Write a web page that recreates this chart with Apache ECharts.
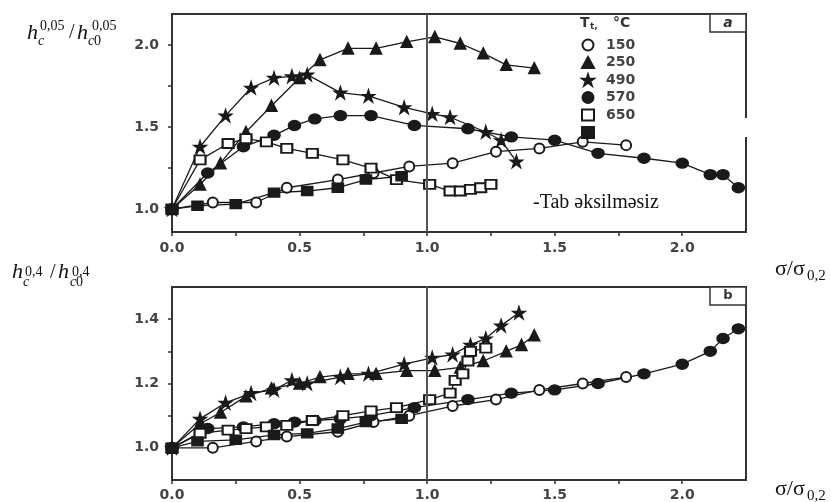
<!DOCTYPE html>
<html>
<head>
<meta charset="utf-8">
<script src="https://cdn.jsdelivr.net/npm/echarts@6/dist/echarts.min.js"></script>
<style>
  html, body { margin: 0; padding: 0; background: #fff; }
  #main { width: 831px; height: 502px; }
</style>
</head>
<body>
<div id="main"></div>
<script>
  // panel a : h_c^0,05 / h_c0^0,05 vs sigma/sigma0,2
  const a150x = [0, 0.16, 0.33, 0.45, 0.65, 0.79, 0.93, 1.10, 1.27, 1.44, 1.61, 1.78];
  const a150y = [1.00, 1.04, 1.04, 1.13, 1.18, 1.22, 1.26, 1.28, 1.35, 1.37, 1.41, 1.39];
  const a250x = [0, 0.11, 0.19, 0.29, 0.39, 0.50, 0.58, 0.69, 0.80, 0.92, 1.03, 1.13, 1.22, 1.31, 1.42];
  const a250y = [1.00, 1.15, 1.28, 1.47, 1.63, 1.80, 1.91, 1.98, 1.98, 2.02, 2.05, 2.01, 1.95, 1.88, 1.86];
  const a490x = [0, 0.11, 0.21, 0.31, 0.40, 0.47, 0.53, 0.66, 0.77, 0.91, 1.02, 1.09, 1.23, 1.29, 1.35];
  const a490y = [1.00, 1.38, 1.57, 1.74, 1.80, 1.81, 1.82, 1.71, 1.69, 1.62, 1.58, 1.56, 1.47, 1.42, 1.29];
  const a570x = [0, 0.14, 0.28, 0.40, 0.48, 0.56, 0.66, 0.78, 0.95, 1.16, 1.33, 1.50, 1.67, 1.85, 2.00, 2.11, 2.16, 2.22];
  const a570y = [1.00, 1.22, 1.38, 1.45, 1.51, 1.55, 1.57, 1.57, 1.51, 1.49, 1.44, 1.42, 1.34, 1.31, 1.28, 1.21, 1.21, 1.13];
  const a650x = [0, 0.11, 0.22, 0.29, 0.37, 0.45, 0.55, 0.67, 0.78, 0.88, 1.01, 1.09, 1.13, 1.17, 1.21, 1.25];
  const a650y = [1.00, 1.30, 1.40, 1.43, 1.41, 1.37, 1.34, 1.30, 1.25, 1.18, 1.15, 1.11, 1.11, 1.12, 1.13, 1.15];
  const aSqx = [0, 0.10, 0.25, 0.40, 0.53, 0.65, 0.76, 0.90];
  const aSqy = [1.00, 1.02, 1.03, 1.10, 1.11, 1.13, 1.18, 1.20];

  // panel b : h_c^0,4 / h_c0^0,4
  const b150x = [0, 0.16, 0.33, 0.45, 0.65, 0.79, 0.93, 1.10, 1.27, 1.44, 1.61, 1.78];
  const b150y = [1.00, 1.00, 1.02, 1.035, 1.05, 1.08, 1.10, 1.13, 1.15, 1.18, 1.20, 1.22];
  const b250x = [0, 0.11, 0.19, 0.29, 0.39, 0.50, 0.58, 0.69, 0.80, 0.92, 1.03, 1.13, 1.22, 1.31, 1.37, 1.42];
  const b250y = [1.00, 1.075, 1.11, 1.16, 1.185, 1.20, 1.22, 1.23, 1.23, 1.24, 1.24, 1.25, 1.27, 1.30, 1.32, 1.35];
  const b490x = [0, 0.11, 0.21, 0.31, 0.40, 0.47, 0.53, 0.66, 0.77, 0.91, 1.02, 1.10, 1.17, 1.23, 1.29, 1.36];
  const b490y = [1.00, 1.09, 1.14, 1.17, 1.18, 1.21, 1.20, 1.22, 1.23, 1.26, 1.28, 1.29, 1.32, 1.34, 1.38, 1.42];
  const b570x = [0, 0.14, 0.28, 0.40, 0.48, 0.56, 0.66, 0.78, 0.95, 1.16, 1.33, 1.50, 1.67, 1.85, 2.00, 2.11, 2.16, 2.22];
  const b570y = [1.00, 1.06, 1.065, 1.075, 1.08, 1.085, 1.09, 1.10, 1.125, 1.15, 1.17, 1.18, 1.20, 1.23, 1.26, 1.30, 1.34, 1.37];
  const b650x = [0, 0.11, 0.22, 0.29, 0.37, 0.45, 0.55, 0.67, 0.78, 0.88, 1.01, 1.09, 1.11, 1.14, 1.16, 1.17, 1.23];
  const b650y = [1.00, 1.045, 1.055, 1.06, 1.065, 1.07, 1.085, 1.10, 1.115, 1.125, 1.15, 1.17, 1.21, 1.23, 1.27, 1.30, 1.31];
  const bSqx = [0, 0.10, 0.25, 0.40, 0.53, 0.65, 0.76, 0.90];
  const bSqy = [1.00, 1.02, 1.025, 1.04, 1.045, 1.06, 1.08, 1.09];

  const xLabels = [0, 0.5, 1.0, 1.5, 2.0];
  const xTicks = [0, 0.25, 0.5, 0.75, 1.0, 1.25, 1.5, 1.75, 2.0];
  const yaLabels = [1.0, 1.5, 2.0];
  const yaTicks = [1.0, 1.25, 1.5, 1.75, 2.0];
  const ybLabels = [1.0, 1.2, 1.4];
  const ybTicks = [1.0, 1.1, 1.2, 1.3, 1.4];

  const star = 'path://M12,0 L15,9 L24,9 L17,14 L20,23 L12,17 L4,23 L7,14 L0,9 L9,9 Z';
  const zip = (xs, ys) => xs.map((x, i) => [x, ys[i]]);

  const ink = '#1a1a1a';
  const frame = '#333';
  const labelStyle = { fontFamily: 'DejaVu Sans', fontWeight: 'bold', fontSize: 14, color: '#444' };

  const xAxisOf = (gi, margin) => ({
    gridIndex: gi, type: 'value', min: 0, max: 2.25,
    axisLine: { show: true, onZero: false, lineStyle: { color: frame, width: 2 } },
    axisTick: { show: true, customValues: xTicks, length: 4, lineStyle: { color: frame, width: 1.5 } },
    axisLabel: { customValues: xLabels, formatter: v => v.toFixed(1), margin: margin, ...labelStyle },
    splitLine: { show: false }
  });
  const yAxisOf = (gi, min, max, labels, ticks) => ({
    gridIndex: gi, type: 'value', min: min, max: max,
    axisLine: { show: true, onZero: false, lineStyle: { color: frame, width: 2 } },
    axisTick: { show: true, customValues: ticks, length: 4, lineStyle: { color: frame, width: 1.5 } },
    axisLabel: { customValues: labels, formatter: v => v.toFixed(1), margin: 13, ...labelStyle },
    splitLine: { show: false }
  });

  const mkSeries = (name, gi, data, symbol, size) => ({
    name: name, type: 'line', xAxisIndex: gi, yAxisIndex: gi,
    data: data, symbol: symbol, symbolSize: size, showAllSymbol: true,
    lineStyle: { color: ink, width: 1.3 },
    itemStyle: { color: ink, borderColor: ink, borderWidth: 1.5 },
    emphasis: { disabled: true }
  });
  const vline = {
    silent: true, symbol: 'none', label: { show: false },
    lineStyle: { color: '#555', width: 2, type: 'solid' },
    data: [{ xAxis: 1 }]
  };

  const series = [
    { ...mkSeries('150', 0, zip(a150x, a150y), 'emptyCircle', 10), markLine: vline },
    mkSeries('250', 0, zip(a250x, a250y), 'triangle', 11),
    mkSeries('490', 0, zip(a490x, a490y), star, 12),
    mkSeries('570', 0, zip(a570x, a570y), 'circle', [12, 10]),
    mkSeries('650', 0, zip(a650x, a650y), 'emptyRect', [11, 9]),
    mkSeries(' ', 0, zip(aSqx, aSqy), 'rect', [11, 9]),
    { ...mkSeries('150', 1, zip(b150x, b150y), 'emptyCircle', 10), markLine: vline },
    mkSeries('250', 1, zip(b250x, b250y), 'triangle', 11),
    mkSeries('490', 1, zip(b490x, b490y), star, 12),
    mkSeries('570', 1, zip(b570x, b570y), 'circle', [12, 10]),
    mkSeries('650', 1, zip(b650x, b650y), 'emptyRect', [11, 9]),
    mkSeries(' ', 1, zip(bSqx, bSqy), 'rect', [11, 9])
  ];

  const serif = 'Liberation Serif';
  const txt = (text, x, y, size, opts) => ({
    type: 'text', z: 101, x: x, y: y,
    style: Object.assign({ text: text, font: size + 'px "' + serif + '"', fill: '#111', verticalAlign: 'middle' }, opts || {})
  });
  const ital = size => ({ font: 'italic ' + size + 'px "' + serif + '"' });
  const bold = (size, extra) => ({ font: (extra || '') + 'bold ' + size + 'px "DejaVu Sans"', fill: '#333' });

  const chart = echarts.init(document.getElementById('main'), null, { renderer: 'canvas' });
  chart.setOption({
    animation: false,
    backgroundColor: '#fff',
    grid: [
      { left: 172, top: 14, width: 574, height: 218, show: true, borderColor: frame, borderWidth: 2 },
      { left: 172, top: 287, width: 574, height: 193, show: true, borderColor: frame, borderWidth: 2 }
    ],
    xAxis: [xAxisOf(0, 9), xAxisOf(1, 8)],
    yAxis: [
      yAxisOf(0, 0.86, 2.19, yaLabels, yaTicks),
      yAxisOf(1, 0.9, 1.5, ybLabels, ybTicks)
    ],
    legend: {
      orient: 'vertical', left: 576, top: 33,
      itemWidth: 12, itemHeight: 11, itemGap: 3.5,
      selectedMode: false,
      textStyle: { ...labelStyle, padding: [0, 0, 0, 7] },
      data: [
        { name: '150', icon: 'emptyCircle' },
        { name: '250', icon: 'triangle' },
        { name: '490', icon: star },
        { name: '570', icon: 'circle' },
        { name: '650', icon: 'emptyRect' },
        { name: ' ', icon: 'rect' }
      ]
    },
    series: series,
    graphic: [
      // white patch over the top-left corner with the panel a ordinate label
      { type: 'rect', z: 100, shape: { x: 0, y: 0, width: 130, height: 97 }, style: { fill: '#fff' } },
      txt('h', 27, 33, 22, ital(22)),
      txt('0,05', 40, 26, 14),
      txt('c', 38, 41, 14, ital(14)),
      txt('/', 69, 33, 20),
      txt('h', 77, 33, 22, ital(22)),
      txt('0,05', 92, 26, 14),
      txt('c', 88, 41, 14, ital(14)),
      txt('0', 94, 41, 14),
      // panel b ordinate label
      txt('h', 12, 272, 22, ital(22)),
      txt('0,4', 25, 272, 14),
      txt('c', 23, 282, 14, ital(14)),
      txt('/', 50, 273, 20),
      txt('h', 58, 272, 22, ital(22)),
      txt('0,4', 72, 272, 14),
      txt('c', 70, 282, 14, ital(14)),
      txt('0', 76, 282, 14),
      // abscissa labels
      txt('σ/σ', 775, 269, 22),
      txt('0,2', 807, 276, 15),
      txt('σ/σ', 775, 489, 22),
      txt('0,2', 807, 496, 15),
      // gap in the right frame of panel a
      { type: 'rect', z: 100, shape: { x: 743, y: 118, width: 8, height: 19 }, style: { fill: '#fff' } },
      // annotation box
      { type: 'rect', z: 100, shape: { x: 513, y: 182, width: 199, height: 40 }, style: { fill: '#fff' } },
      txt('-Tab əksilməsiz', 533, 203, 20),
      // legend header
      txt('T', 580, 23, 14, bold(14)),
      txt('t,', 590, 27, 9, bold(9)),
      txt('°C', 613, 23, 14, bold(14)),
      // panel tags
      { type: 'rect', z: 100, shape: { x: 710, y: 14, width: 36, height: 18 }, style: { fill: '#fff', stroke: frame, lineWidth: 1.5 } },
      txt('a', 728, 23, 14, Object.assign(bold(14, 'italic '), { align: 'center' })),
      { type: 'rect', z: 100, shape: { x: 710, y: 287, width: 36, height: 18 }, style: { fill: '#fff', stroke: frame, lineWidth: 1.5 } },
      txt('b', 728, 296, 13, Object.assign(bold(13), { align: 'center' }))
    ]
  });
</script>
</body>
</html>
